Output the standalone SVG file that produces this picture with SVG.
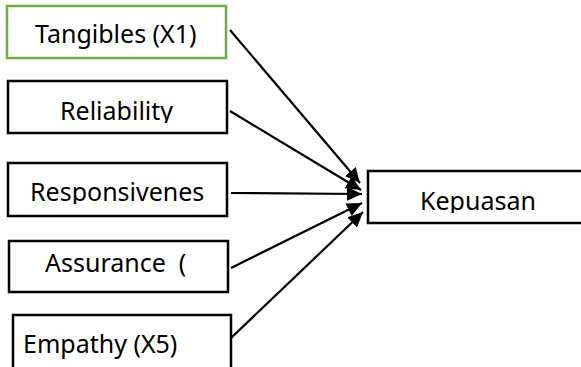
<svg xmlns="http://www.w3.org/2000/svg" width="581" height="367" viewBox="0 0 581 367">
<style>
.box{fill:#fff;stroke:#000;stroke-width:2.5}
.green{stroke:#70AD47}
.lbl{font-family:"Noto Sans","Liberation Sans",sans-serif;font-size:25px;fill:#000}
.edge{stroke:#000;stroke-width:2.2;fill:none;marker-end:url(#ah)}
</style>
<defs>
<marker id="ah" markerUnits="userSpaceOnUse" markerWidth="16" markerHeight="14" refX="15" refY="7" orient="auto">
<path d="M0,0 L15,7 L0,14 Z" fill="#000"/>
</marker>
<clipPath id="c2"><rect x="0" y="80" width="240" height="43"/></clipPath>
<clipPath id="c3"><rect x="0" y="160" width="240" height="44"/></clipPath>
<clipPath id="c6"><rect x="360" y="170" width="221" height="43"/></clipPath>
</defs>
<g id="edges">
<line class="edge" x1="230" y1="30" x2="360" y2="183"/>
<line class="edge" x1="230" y1="111" x2="361" y2="190"/>
<line class="edge" x1="231" y1="193" x2="362" y2="194"/>
<line class="edge" x1="231" y1="268" x2="362" y2="203"/>
<line class="edge" x1="231" y1="338" x2="363" y2="212"/>
</g>
<g id="n1">
<rect class="box green" x="7" y="6" width="219" height="52"/>
<text class="lbl" x="35" y="43">Tangibles (X1)</text>
</g>
<g id="n2">
<rect class="box" x="8" y="81" width="219" height="52"/>
<text class="lbl" x="60" y="120" clip-path="url(#c2)">Reliability</text>
</g>
<g id="n3">
<rect class="box" x="8" y="163" width="219" height="53"/>
<text class="lbl" x="30" y="201" clip-path="url(#c3)">Responsivenes</text>
</g>
<g id="n4">
<rect class="box" x="9" y="241" width="219" height="51"/>
<text class="lbl" x="45" y="272" xml:space="preserve">Assurance  (</text>
</g>
<g id="n5">
<rect class="box" x="13" y="315" width="218" height="60"/>
<text class="lbl" x="23" y="353">Empathy (X5)</text>
</g>
<g id="n6">
<rect class="box" x="368" y="171" width="220" height="52"/>
<text class="lbl" x="420" y="210" clip-path="url(#c6)">Kepuasan</text>
</g>
</svg>
